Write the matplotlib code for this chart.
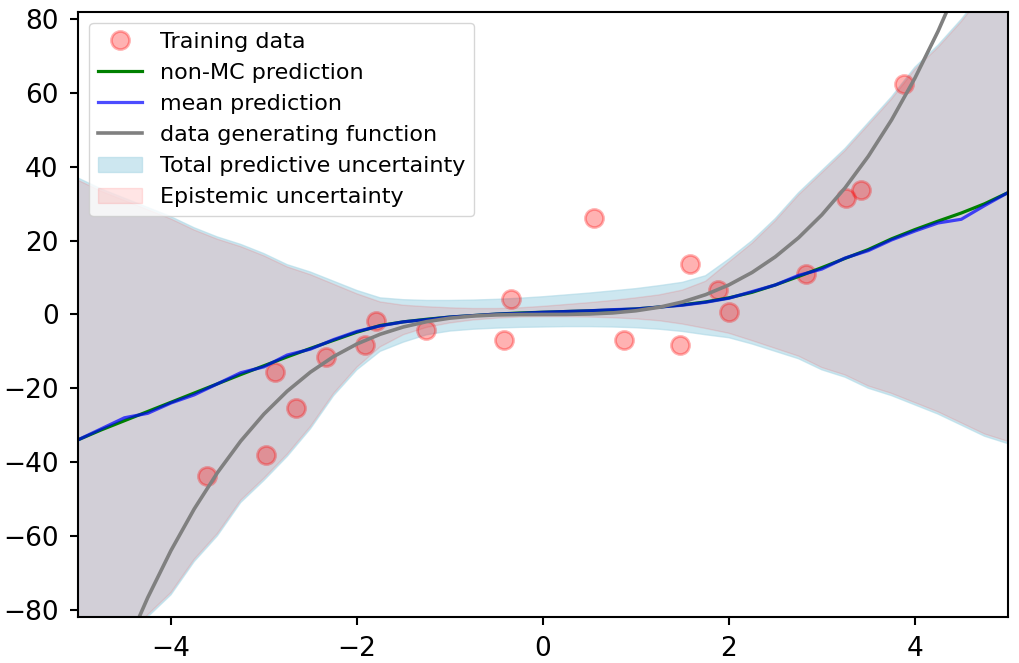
import matplotlib
matplotlib.use("Agg")
import matplotlib.pyplot as plt
import numpy as np

# x grid shared by the curves and bands
x_grid = np.linspace(-5, 5, 41)

# training points
x_train = [-3.61, -2.98, -2.88, -2.66, -2.33, -1.91, -1.80, -1.26, -0.42, -0.34,
           0.55, 0.87, 1.48, 1.58, 1.88, 2.00, 2.83, 3.26, 3.42, 3.88]
y_train = [-43.8, -38.0, -15.5, -25.3, -11.4, -8.2, -1.9, -4.1, -6.8, 4.3,
           26.1, -6.8, -8.4, 13.6, 6.5, 0.8, 11.1, 31.5, 33.7, 62.5]

# data generating function
y_true = [-125, -107.17, -91.13, -76.77, -64, -52.73, -42.88, -34.33, -27, -20.8,
          -15.63, -11.39, -8, -5.36, -3.38, -1.95, -1, -0.42, -0.13, -0.02,
          0, 0.02, 0.13, 0.42, 1, 1.95, 3.38, 5.36, 8, 11.39,
          15.63, 20.8, 27, 34.33, 42.88, 52.73, 64, 76.77, 91.13, 107.17, 125]

# non-MC prediction
y_nonmc = [-34, -31.3, -28.8, -26.3, -23.8, -21.3, -18.8, -16.3, -13.9, -11.5,
           -9.2, -7.0, -4.8, -3.0, -2.0, -1.3, -0.7, -0.3, 0.1, 0.4,
           0.6, 0.8, 1.0, 1.2, 1.5, 2.0, 2.6, 3.4, 4.5, 6.0,
           8.0, 10.3, 12.7, 15.2, 17.6, 20.5, 23.0, 25.3, 27.5, 30.0, 33.0]

# MC mean prediction
y_mean = [-34, -31.0, -28.0, -26.8, -24.0, -21.8, -18.8, -15.8, -14.2, -11.0,
          -9.4, -6.8, -4.6, -3.1, -2.0, -1.4, -0.7, -0.3, 0.1, 0.3,
          0.6, 0.8, 1.0, 1.3, 1.5, 2.0, 2.5, 3.3, 4.4, 6.2,
          8.0, 10.6, 12.3, 15.3, 17.3, 20.2, 22.6, 24.8, 25.8, 29.5, 33.0]

# total predictive uncertainty band
total_upper = [37, 34, 31.5, 29, 26.5, 23.5, 21, 19, 16.5, 13.5,
               11.5, 9, 6.5, 4.5, 4, 3.8, 3.8, 3.9, 4.1, 4.4,
               4.8, 5.3, 5.8, 6.4, 7.0, 7.8, 8.7, 10.5, 15, 20,
               26, 33, 39, 45, 52, 59, 67, 73, 80, 88, 95]
total_lower = [-105, -98, -91, -82, -76, -67, -60, -51, -45, -38.5,
               -31, -22, -15, -10, -7.5, -5.5, -4.5, -4, -3.7, -3.5,
               -3.4, -3.3, -3.3, -3.4, -3.6, -4.0, -4.6, -5.5, -6.3, -8,
               -10, -12, -15, -17, -20, -22, -24.5, -27, -30, -33, -35]

# epistemic uncertainty band
epi_upper = [36.4, 33.4, 30.9, 28.4, 25.9, 22.9, 20.4, 18.4, 15.9, 12.9,
             10.8, 8.2, 5.6, 3.4, 2.5, 2.1, 1.8, 1.6, 1.6, 1.8,
             2.2, 2.7, 3.2, 3.8, 4.5, 5.3, 6.6, 9.0, 14.2, 19.3,
             25.4, 32.4, 38.4, 44.4, 51.4, 58.4, 66.4, 72.4, 79.4, 87.4, 94.4]
epi_lower = [-104.4, -97.4, -90.4, -81.4, -75.4, -66.4, -59.4, -50.4, -44.4, -37.9,
             -30.4, -21.4, -14.3, -8.8, -5.5, -3.5, -2.3, -1.5, -1.0, -0.7,
             -0.6, -0.6, -0.7, -0.9, -1.2, -1.7, -2.6, -3.8, -5.1, -7.1,
             -9.2, -11.3, -14.4, -16.4, -19.4, -21.4, -23.9, -26.4, -29.4, -32.4, -34.4]

fig = plt.figure(figsize=(10.19, 6.63), dpi=100)
ax = fig.add_axes([0.0765, 0.0694, 0.9125, 0.9126])

ax.plot(x_train, y_train, 'o', color='r', alpha=0.3, markersize=13,
        markeredgewidth=2, label='Training data')
ax.plot(x_grid, y_nonmc, color='green', lw=2.3, label='non-MC prediction')
ax.plot(x_grid, y_mean, color='blue', alpha=0.7, lw=2.3, label='mean prediction')
ax.plot(x_grid, y_true, color='gray', lw=2.6, label='data generating function')
ax.fill_between(x_grid, total_lower, total_upper, color='lightblue', alpha=0.6,
                label='Total predictive uncertainty')
ax.fill_between(x_grid, epi_lower, epi_upper, color='red', alpha=0.1,
                label='Epistemic uncertainty')

ax.set_xlim(-5, 5)
ax.set_ylim(-82, 82)
ax.set_xticks([-4, -2, 0, 2, 4])
ax.set_yticks([-80, -60, -40, -20, 0, 20, 40, 60, 80])
ax.tick_params(labelsize=19, length=6, width=1.5, pad=8)
for s in ax.spines.values():
    s.set_linewidth(1.5)

ax.legend(loc='upper left', fontsize=16)

fig.savefig('out.png', dpi=100)
